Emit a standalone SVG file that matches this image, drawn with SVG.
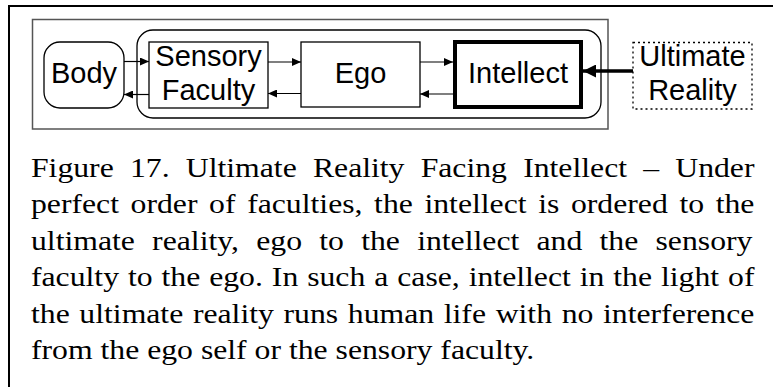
<svg xmlns="http://www.w3.org/2000/svg" width="773" height="387" viewBox="0 0 773 387">
<style>
.box{fill:#fff;stroke:#000;stroke-width:1.3}
.lbl{font-family:"Liberation Sans",Arial,sans-serif;font-size:29px;fill:#000;text-anchor:middle}
.cap{font-family:"Liberation Serif","Times New Roman",serif;font-size:27px;fill:#000}
.ln{stroke:#000;stroke-width:1.2;fill:none}
</style>
<defs>
<marker id="ah" markerWidth="9" markerHeight="8" refX="9" refY="4" orient="auto" markerUnits="userSpaceOnUse">
<path d="M0,0 L9,4 L0,8 Z" fill="#000"/>
</marker>
<marker id="ahb" markerWidth="13" markerHeight="13" refX="13" refY="6.5" orient="auto" markerUnits="userSpaceOnUse">
<path d="M0,0 L13,6.5 L0,13 Z" fill="#000"/>
</marker>
</defs>
<rect x="9" y="6" width="790" height="420" fill="none" stroke="#000" stroke-width="2"/>
<rect x="32.5" y="19.5" width="575.5" height="109.5" fill="none" stroke="#555" stroke-width="1.5"/>
<rect id="container" x="137" y="30" width="464" height="88" rx="16" ry="16" fill="none" stroke="#000" stroke-width="1.3"/>
<g id="body">
<rect class="box" x="44" y="42" width="80" height="66" rx="16" ry="16"/>
<text class="lbl" x="84" y="83">Body</text>
</g>
<g id="sensory">
<rect class="box" x="149" y="42" width="119" height="66"/>
<text class="lbl" x="208.5" y="66">Sensory</text>
<text class="lbl" x="208.5" y="100">Faculty</text>
</g>
<g id="ego">
<rect class="box" x="301" y="42" width="119" height="65"/>
<text class="lbl" x="360.5" y="83">Ego</text>
</g>
<g id="intellect">
<rect x="455" y="42" width="126" height="65" fill="#fff" stroke="#000" stroke-width="4"/>
<text class="lbl" x="518" y="83">Intellect</text>
</g>
<g id="ultimate">
<rect x="633" y="42.5" width="119" height="66.5" fill="#fff" stroke="#000" stroke-width="1.3" stroke-dasharray="2,3"/>
<text class="lbl" x="692.5" y="66">Ultimate</text>
<text class="lbl" x="692.5" y="100">Reality</text>
</g>
<g id="connectors">
<line class="ln" x1="124" y1="61.5" x2="149" y2="61.5" marker-end="url(#ah)"/>
<line class="ln" x1="149" y1="94.5" x2="124" y2="94.5" marker-end="url(#ah)"/>
<line class="ln" x1="268" y1="62" x2="301" y2="62" marker-end="url(#ah)"/>
<line class="ln" x1="301" y1="93.5" x2="268" y2="93.5" marker-end="url(#ah)"/>
<line class="ln" x1="420" y1="62" x2="453" y2="62" marker-end="url(#ah)"/>
<line class="ln" x1="453" y1="94" x2="420" y2="94" marker-end="url(#ah)"/>
<line x1="633" y1="71" x2="583" y2="71" stroke="#000" stroke-width="3.5" marker-end="url(#ahb)"/>
</g>
<g id="caption" transform="scale(1.175,1)">
<text class="cap" x="26.38" y="177" style="word-spacing:7.04px">Figure 17. Ultimate Reality Facing Intellect – Under</text>
<text class="cap" x="26.38" y="213.5" style="word-spacing:3.15px">perfect order of faculties, the intellect is ordered to the</text>
<text class="cap" x="26.38" y="250" style="word-spacing:7.94px">ultimate reality, ego to the intellect and the sensory</text>
<text class="cap" x="26.38" y="286.5" style="word-spacing:0.86px">faculty to the ego. In such a case, intellect in the light of</text>
<text class="cap" x="26.38" y="323" style="word-spacing:1.47px">the ultimate reality runs human life with no interference</text>
<text class="cap" x="26.38" y="359.5">from the ego self or the sensory faculty.</text>
</g>
</svg>
